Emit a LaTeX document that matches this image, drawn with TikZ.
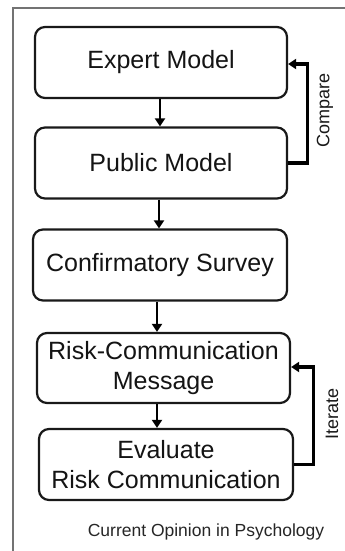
\documentclass[tikz,border=0pt]{standalone}
\usepackage{fontspec}
\setmainfont{Liberation Sans}
\usetikzlibrary{arrows.meta}
\begin{document}
\begin{tikzpicture}[x=1pt,y=-1pt,
  stage/.style={draw=black!90,line width=2.2pt,rounded corners=10pt,
    minimum width=252pt,minimum height=71pt,inner sep=0pt,
    align=center,font=\fontsize{25}{30}\selectfont,text=black!92},
  arr/.style={line width=2.8pt,-{Triangle[length=8pt,width=10pt]}},
  fb/.style={line width=3.2pt,-{Triangle[length=8pt,width=10pt]}},
  side/.style={rotate=90,font=\fontsize{18}{20}\selectfont,text=black!90},
  frameline/.style={draw=black!55,line width=1.6pt}]
  % page area
  \useasboundingbox (0,0) rectangle (345,551);
  \fill[white] (0,0) rectangle (345,551);
  % partial frame (top and left edges)
  \coordinate (fbl) at (13,551);
  \coordinate (ftl) at (13,8);
  \coordinate (ftr) at (345,8);
  \draw[frameline] (fbl) -- (ftl) -- (ftr);

  % stages
  \node[stage] (expert) at (161,62.5) {Expert Model};
  \node[stage] (public) at (161,163) {Public Model};
  \node[stage,minimum width=254pt] (survey) at (160,265) {Confirmatory Survey};
  \node[stage,minimum width=253pt,minimum height=70pt] (message) at (163.5,368)
    {Risk-Communication\\Message};
  \node[stage,minimum width=254pt] (evaluate) at (166,464.5)
    {Evaluate\\Risk Communication};

  % forward arrows
  \draw[arr] ([xshift=-1pt]expert.south) -- ([xshift=-1pt]expert.south |- public.north);
  \draw[arr] ([xshift=-2pt]public.south) -- ([xshift=-2pt]public.south |- survey.north);
  \draw[arr] ([xshift=-3pt]survey.south) -- ([xshift=-3pt]survey.south |- message.north);
  \draw[arr] ([xshift=-6.5pt]message.south) -- ([xshift=-6.5pt]message.south |- evaluate.north);

  % feedback loops
  \draw[fb] (public.east) -- ++(19,0) |- ([yshift=-1.5pt]expert.east);
  \draw[fb] (evaluate.east) -- ++(19,0) |- ([yshift=1pt]message.east);

  % loop labels
  \node[side] (cmp) at (325,110) {Compare};
  \node[side] (itr) at (332,414) {Iterate};

  % source caption
  \node[font=\fontsize{17.5}{20}\selectfont,text=black!85] (src) at (206,532)
    {Current Opinion in Psychology};
\end{tikzpicture}
\end{document}
